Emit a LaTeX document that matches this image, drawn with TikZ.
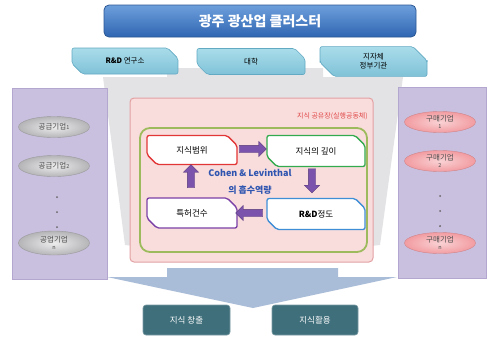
\documentclass[tikz,border=0pt]{standalone}
\usepackage{fontspec}
\setmainfont{Noto Sans CJK KR}
\usetikzlibrary{shapes.geometric,shapes.misc,shapes.arrows}
\definecolor{titletop}{HTML}{6E9FDC}
\definecolor{titlebot}{HTML}{2F66B2}
\definecolor{titleline}{HTML}{2A5794}
\definecolor{tabtop}{HTML}{A9DCEA}
\definecolor{tabbot}{HTML}{80C2D8}
\definecolor{tabline}{HTML}{62A9C2}
\definecolor{panel}{HTML}{C9BFDE}
\definecolor{panelline}{HTML}{B3A7CF}
\definecolor{greyarr}{HTML}{E3E3E6}
\definecolor{bluearr}{HTML}{A9BDD8}
\definecolor{pinkfill}{HTML}{F9DDDC}
\definecolor{pinkline}{HTML}{E3A1A4}
\definecolor{greenline}{HTML}{9DBB5C}
\definecolor{redline}{HTML}{E23535}
\definecolor{grnline}{HTML}{33AA4E}
\definecolor{purline}{HTML}{7A40A6}
\definecolor{bluline}{HTML}{3E8ED6}
\definecolor{arrfill}{HTML}{7C53AC}
\definecolor{cohen}{HTML}{2F55B0}
\definecolor{teal}{HTML}{3F6F7B}
\definecolor{labred}{HTML}{E04848}
\definecolor{ellgrey}{HTML}{B5B5B8}
\definecolor{ellpink}{HTML}{F29CA1}
\begin{document}
\begin{tikzpicture}[x=1pt,y=-1pt,
  titlebox/.style={rounded corners=5pt,top color=titletop,bottom color=titlebot,draw=titleline,line width=0.8pt,
    minimum width=312pt,minimum height=32pt,text=white,font=\bfseries\fontsize{14}{16}\selectfont},
  tabbox/.style={chamfered rectangle,chamfered rectangle corners={north east,south west},chamfered rectangle xsep=7pt,
    chamfered rectangle ysep=7pt,rounded corners=2pt,top color=tabtop,bottom color=tabbot,draw=tabline,line width=0.6pt,inner sep=0pt,
    minimum height=26pt,align=center,font=\fontsize{7.5}{9}\selectfont},
  grayell/.style={ellipse,inner color=white!75!ellgrey,outer color=ellgrey,draw=ellgrey!85!black,line width=0.4pt,
    minimum width=71pt,minimum height=21pt,inner sep=0pt,align=center,font=\fontsize{7.5}{8}\selectfont,text=black!70},
  pinkell/.style={ellipse,inner color=white!55!ellpink,outer color=ellpink,draw=ellpink!85!black,line width=0.4pt,
    minimum width=71pt,minimum height=21pt,inner sep=0pt,align=center,font=\fontsize{7.5}{8}\selectfont,text=black!70},
  innerbox/.style={chamfered rectangle,chamfered rectangle corners={north east,south west},chamfered rectangle xsep=6pt,
    chamfered rectangle ysep=6pt,rounded corners=2pt,fill=white,line width=1.3pt,inner sep=0pt,minimum height=30pt,font=\fontsize{8.5}{9}\selectfont},
  blockarr/.style={single arrow,fill=arrfill,draw=arrfill!70!black,line width=0.3pt,inner sep=3.5pt,
    single arrow head extend=4pt,minimum height=27pt},
  dotnode/.style={circle,fill=black!60,inner sep=0pt,minimum size=2pt},
  tealbox/.style={rounded corners=3pt,fill=teal,draw=teal!70!white,line width=0.6pt,minimum width=87pt,
    minimum height=30pt,text=white,font=\fontsize{8.5}{10}\selectfont},
  cohentext/.style={text=cohen,font=\bfseries\fontsize{9}{10}\selectfont}]
\useasboundingbox (0,0) rectangle (487,338);
\fill[white] (0,0) rectangle (487,338);
% grey background arrow
\fill[greyarr] (167,68) -- (323,68) -- (323,77) -- (403,77) -- (380,245) -- (250,258) -- (125,245) -- (103,77) -- (167,77) -- cycle;
% blue arrow at bottom
\fill[bluearr] (167,268) -- (338,268) -- (338,277) -- (397,277) -- (253,308) -- (107,277) -- (167,277) -- cycle;
% side panels
\node[draw=panelline,fill=panel,line width=0.6pt,minimum width=95pt,minimum height=191pt,inner sep=0pt] (lpanel) at (59.5,183.5) {};
\node[draw=panelline,fill=panel,line width=0.6pt,minimum width=88pt,minimum height=191pt,inner sep=0pt] (rpanel) at (442,182.5) {};
% title
\node[titlebox] (title) at (260,21) {광주 광산업 클러스터};
% tabs
\node[tabbox,minimum width=106pt] (t1) at (125,61) {\textbf{R\&D} 연구소};
\node[tabbox,minimum width=108pt] (t2) at (251,61.5) {대학};
\node[tabbox,minimum width=107pt] (t3) at (373.5,61.5) {지자체\\정부기관};
% left ellipses
\node[grayell] (l1) at (54,127) {공급기업{\fontsize{5.5}{6}\selectfont 1}};
\node[grayell] (l2) at (54,166) {공급기업{\fontsize{5.5}{6}\selectfont 2}};
\node[dotnode] (ld1) at (57,197) {};
\node[dotnode] (ld2) at (57,212) {};
\node[dotnode] (ld3) at (57,227) {};
\node[grayell,minimum height=24pt] (l3) at (54,243) {공업기업\\[-1pt]{\fontsize{5.5}{6}\selectfont n}};
% right ellipses
\node[pinkell] (r1) at (440,122) {구매기업\\[-1pt]{\fontsize{5.5}{6}\selectfont 1}};
\node[pinkell] (r2) at (440,161) {구매기업\\[-1pt]{\fontsize{5.5}{6}\selectfont 2}};
\node[dotnode] (rd1) at (440,196) {};
\node[dotnode] (rd2) at (440,211) {};
\node[dotnode] (rd3) at (440,226) {};
\node[pinkell] (r3) at (440,243) {구매기업\\[-1pt]{\fontsize{5.5}{6}\selectfont n}};
% pink box
\node[rounded corners=4pt,fill=pinkfill,draw=pinkline,line width=1pt,minimum width=243pt,minimum height=164pt,inner sep=0pt] (pink) at (251.5,180) {};
\node[anchor=east,text=labred,font=\fontsize{7}{8}\selectfont,inner sep=0pt] (plabel) at (368,116) {지식 공유장(실행공동체)};
% green box
\node[rounded corners=10pt,draw=greenline,line width=1.8pt,minimum width=227pt,minimum height=124pt,inner sep=0pt] (green) at (253.5,190) {};
% inner boxes
\node[innerbox,draw=redline,minimum width=90pt,minimum height=29pt] (b1) at (192,150) {지식범위};
\node[innerbox,draw=grnline,minimum width=98pt,minimum height=31pt] (b2) at (316,151) {지식의 깊이};
\node[innerbox,draw=bluline,minimum width=98pt,minimum height=31pt] (b3) at (316,214) {\textbf{R\&D}정도};
\node[innerbox,draw=purline,minimum width=90pt] (b4) at (192,213) {특허건수};
% block arrows
\node[blockarr] (a1) at (251,149) {};
\node[blockarr,shape border rotate=270,minimum height=24pt] (a2) at (312,179) {};
\node[blockarr,shape border rotate=180] (a3) at (251,213) {};
\node[blockarr,shape border rotate=90,minimum height=23pt] (a4) at (191,178) {};
% center text
\node[cohentext] (c1) at (250,173) {Cohen \& Levinthal};
\node[cohentext] (c2) at (250,190) {의 흡수역량};
% bottom boxes
\node[tealbox] (k1) at (186.5,320) {지식 창출};
\node[tealbox,minimum width=86pt] (k2) at (315,320) {지식활용};
\end{tikzpicture}
\end{document}
